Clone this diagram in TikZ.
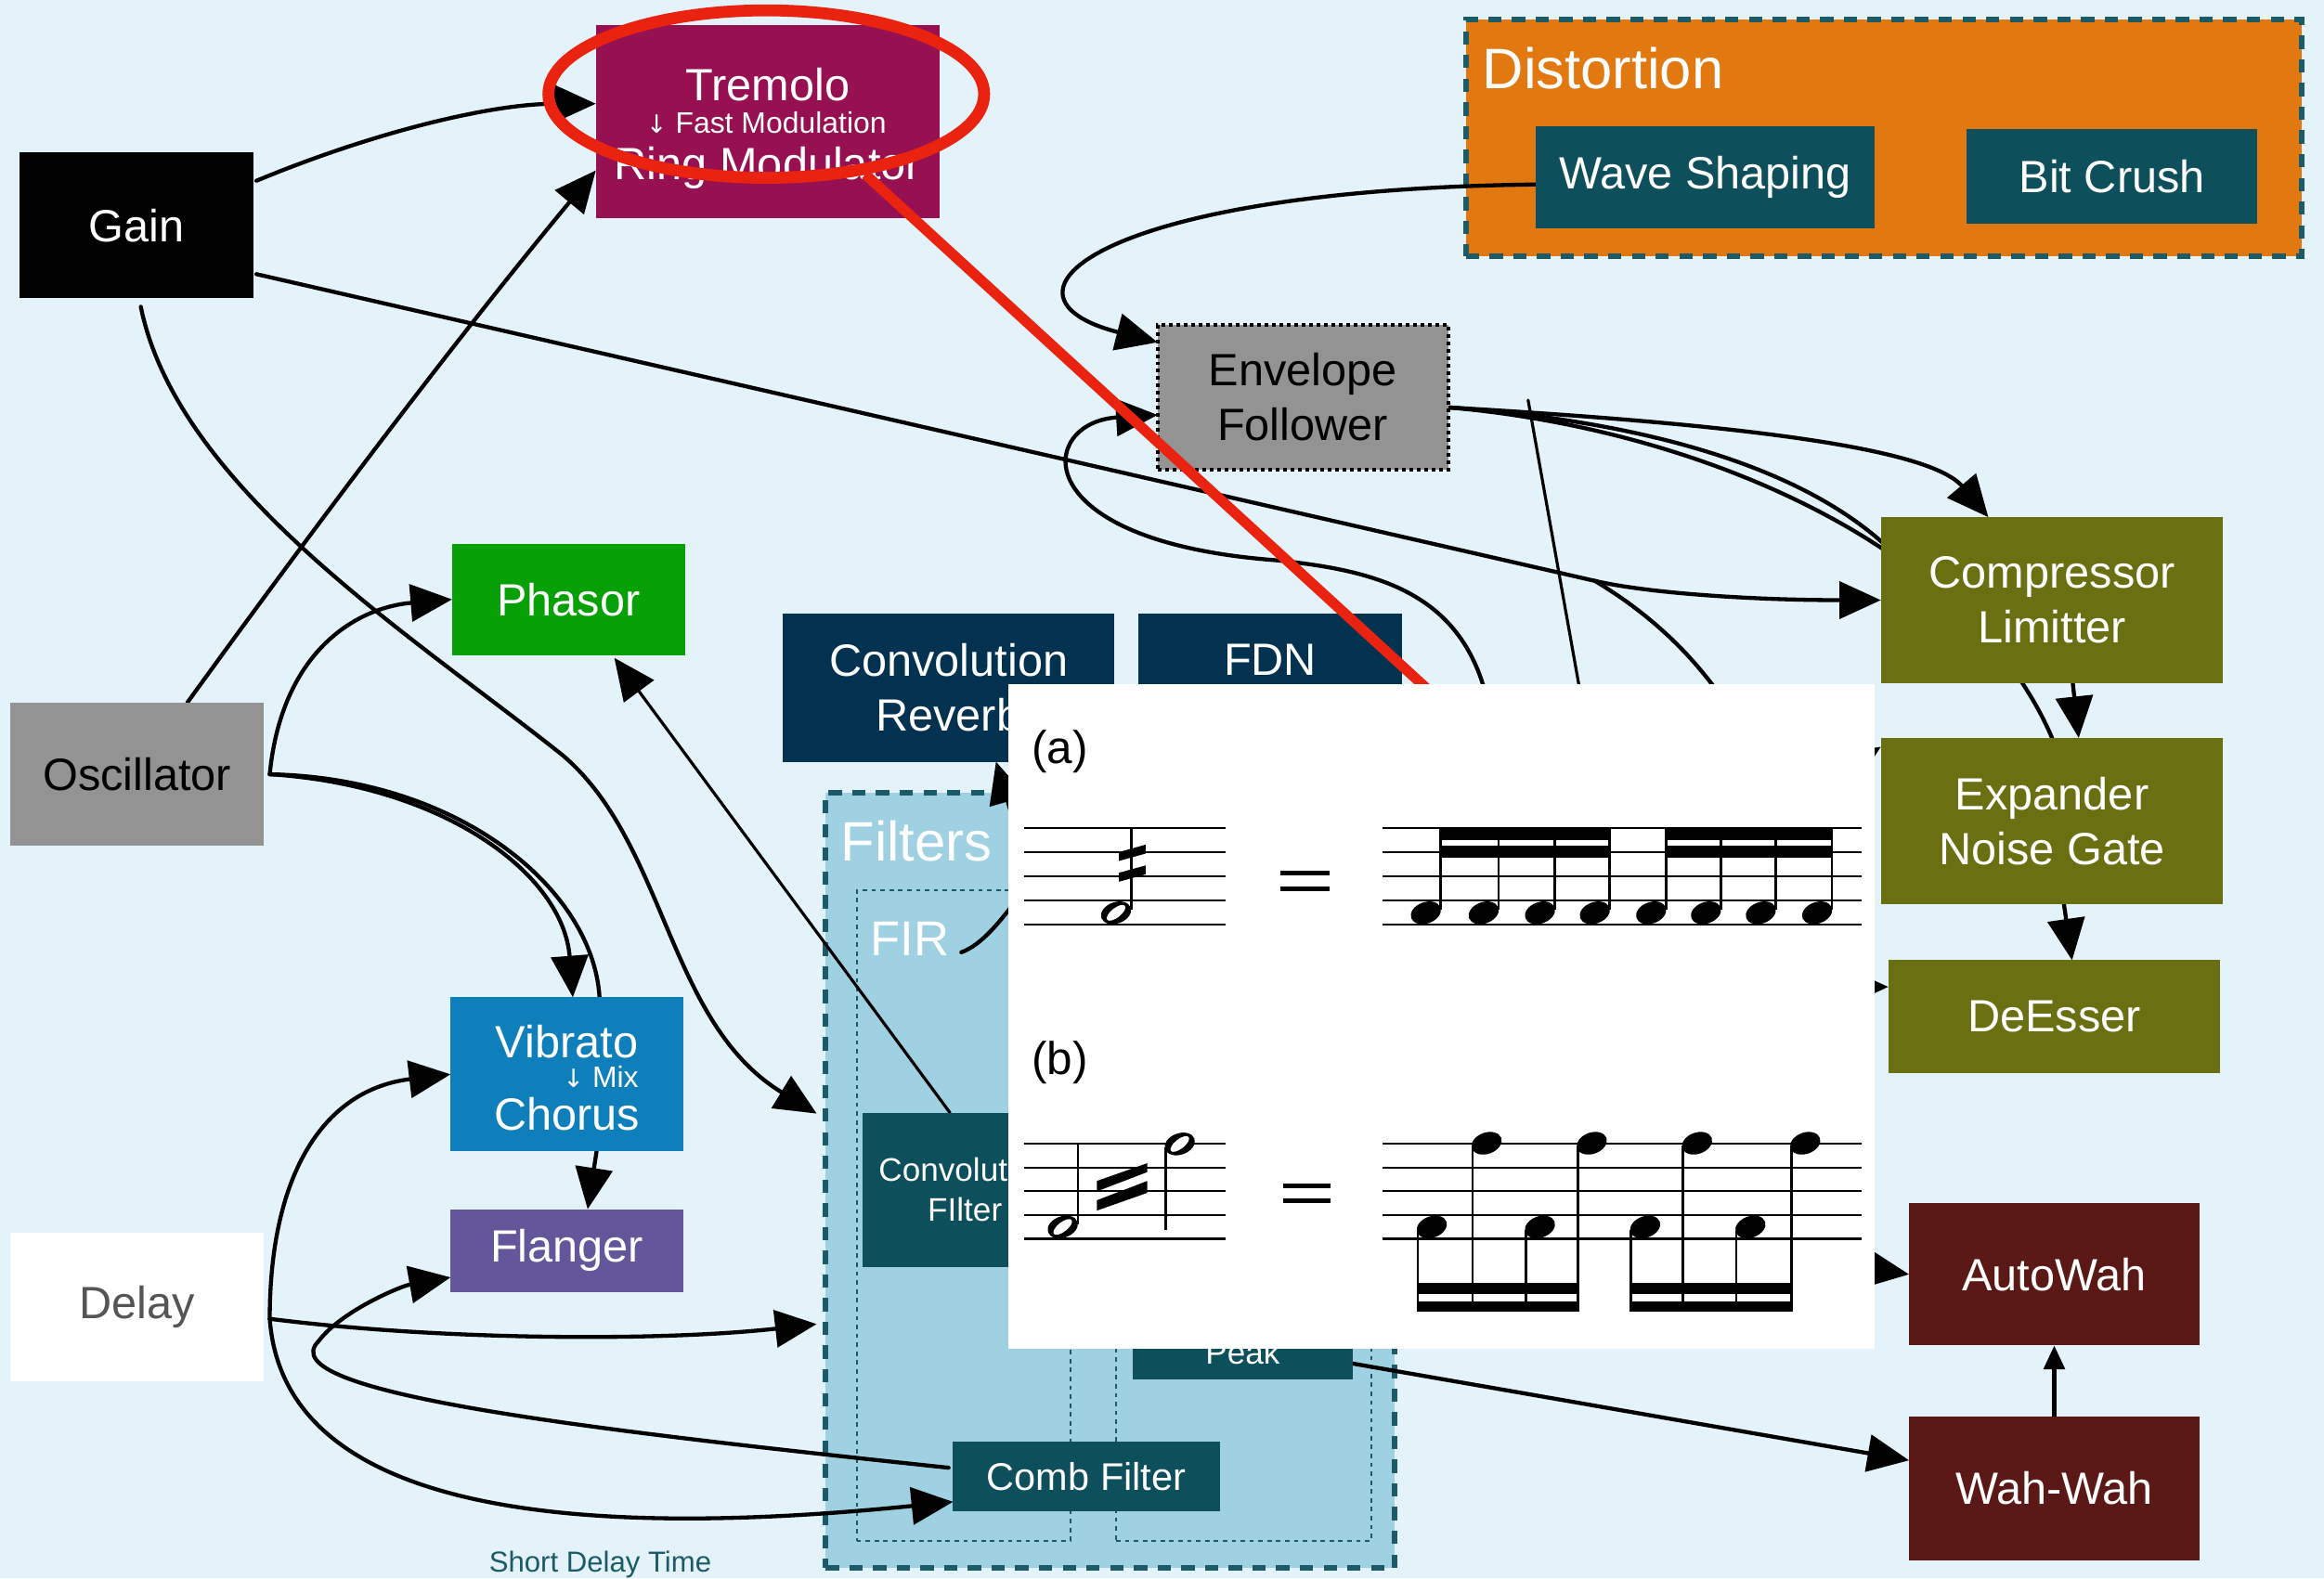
\documentclass[tikz,border=0pt]{standalone}
\usepackage{fontspec}
\setmainfont{Liberation Sans}
\newfontfamily\arrowfont{DejaVu Sans}
\usetikzlibrary{arrows.meta,calc,shapes.geometric}
\pgfdeclarelayer{bg}
\pgfdeclarelayer{edges}
\pgfdeclarelayer{top}
\pgfsetlayers{bg,edges,main,top}
\definecolor{bgcol}{HTML}{E4F2F9}
\definecolor{tremcol}{HTML}{961052}
\definecolor{distcol}{HTML}{E17810}
\definecolor{tealbox}{HTML}{0D4F5B}
\definecolor{dashteal}{HTML}{1C5A68}
\definecolor{greybox}{HTML}{939393}
\definecolor{olive}{HTML}{6A7012}
\definecolor{wahcol}{HTML}{5A1916}
\definecolor{phascol}{HTML}{07A006}
\definecolor{vibcol}{HTML}{0F7FBB}
\definecolor{flancol}{HTML}{63569A}
\definecolor{navy}{HTML}{033250}
\definecolor{filtfill}{HTML}{9FD1E3}
\definecolor{redcol}{HTML}{EA2210}
\definecolor{delaytxt}{HTML}{555555}
\newcommand{\mainfs}{\fontsize{30.5}{37}\selectfont}
\newcommand{\smallfs}{\fontsize{20}{21}\selectfont}
\newcommand{\downarr}{{\arrowfont\fontsize{17}{17}\selectfont ↓}}
\newcommand{\qhead}[2]{\fill[rotate around={20:(#1,#2)}] (#1,#2) ellipse [x radius=10.5, y radius=7.2];}
\newcommand{\hhead}[2]{\fill[rotate around={20:(#1,#2)}] (#1,#2) ellipse [x radius=10.5, y radius=7.2];
  \fill[white,rotate around={38:(#1,#2)}] (#1,#2) ellipse [x radius=7.6, y radius=3.2];}
\begin{document}
\begin{tikzpicture}[x=1pt,y=-1pt,
  box/.style={rectangle, inner sep=0pt, outer sep=0pt, align=center, text=white, font=\mainfs},
  txt/.style={inner sep=0pt, text=white, font=\mainfs},
  conn/.style={draw=black, line width=2.7pt, line cap=round},
  arr/.style={conn, -{Triangle[length=28pt,width=25pt]}},
  cluster/.style={draw=dashteal, line width=3.8pt, dash pattern=on 9pt off 7pt, inner sep=0pt, outer sep=0pt},
  subcluster/.style={draw=dashteal, line width=1.3pt, dash pattern=on 3pt off 3pt, inner sep=0pt, outer sep=0pt},
  staffline/.style={line width=1.3pt},
  stemline/.style={line width=1.7pt},
]
\useasboundingbox (0,0) rectangle (1568,1065);

\begin{pgfonlayer}{bg}
\fill[bgcol] (0,0) rectangle (1568,1065);
\node[cluster, fill=distcol, minimum width=564pt, minimum height=160pt] (dist) at (1271,93) {};
\node[cluster, fill=filtfill, minimum width=384pt, minimum height=523pt] (filters) at (749,796.5) {};
\node[subcluster, minimum width=144pt, minimum height=439pt] (fir) at (650,820.5) {};
\node[subcluster, minimum width=172pt, minimum height=439pt] (iir) at (839,820.5) {};
\end{pgfonlayer}

% ---------- nodes ----------
\node[box, fill=black, minimum width=158pt, minimum height=98pt] (gain) at (92,152) {Gain};
\node[box, fill=tremcol, minimum width=232pt, minimum height=130pt] (trem) at (518,82) {};
\node[txt, anchor=base] (tremA) at (518,68) {Tremolo};
\node[txt, anchor=base, font=\smallfs] (tremB) at (517,90) {\downarr\ Fast Modulation};
\node[txt, anchor=base] (tremC) at (518,121) {Ring Modulator};
\node[txt, anchor=base west, font=\fontsize{38.5}{38.5}\selectfont] (distlbl) at (1000,60) {Distortion};
\node[box, fill=tealbox, minimum width=229pt, minimum height=69pt] (wave) at (1150.5,119.5) {Wave Shaping};
\node[box, fill=tealbox, minimum width=196pt, minimum height=64pt] (bit) at (1425,119) {Bit Crush};
\node[box, fill=greybox, text=black, draw=black, line width=2.5pt, dash pattern=on 2.5pt off 2.5pt, minimum width=196pt, minimum height=98pt] (env) at (879,268) {Envelope\\Follower};
\node[box, fill=olive, minimum width=231pt, minimum height=112pt] (comp) at (1384.5,405) {Compressor\\Limitter};
\node[box, fill=olive, minimum width=231pt, minimum height=112pt] (exp) at (1384.5,554) {Expander\\Noise Gate};
\node[box, fill=olive, minimum width=224pt, minimum height=76pt] (dees) at (1386,686) {DeEsser};
\node[box, fill=wahcol, minimum width=196pt, minimum height=96pt] (autowah) at (1386,860) {AutoWah};
\node[box, fill=wahcol, minimum width=196pt, minimum height=97pt] (wahwah) at (1386,1004.5) {Wah-Wah};
\node[box, fill=phascol, minimum width=157pt, minimum height=75pt] (phasor) at (383.5,404.5) {Phasor};
\node[box, fill=greybox, text=black, minimum width=171pt, minimum height=97pt] (osc) at (92.5,522.5) {Oscillator};
\node[box, fill=vibcol, minimum width=157pt, minimum height=104pt] (vib) at (382.5,725) {};
\node[txt, anchor=base] (vibA) at (382.5,714) {Vibrato};
\node[txt, anchor=base east, font=\smallfs] (vibB) at (431,734) {\downarr\ Mix};
\node[txt, anchor=base] (vibC) at (382.5,763) {Chorus};
\node[box, fill=flancol, minimum width=157pt, minimum height=56pt] (flanger) at (382.5,844) {Flanger};
\node[box, fill=white, text=delaytxt, minimum width=171pt, minimum height=100pt] (delay) at (92.5,882) {Delay};
\node[box, fill=navy, minimum width=224pt, minimum height=100pt] (convrev) at (640,464) {Convolution\\Reverb};
\node[box, fill=navy, minimum width=178pt, minimum height=100pt] (fdn) at (857,464) {FDN\\\mbox{}};
\node[txt, anchor=base west, font=\fontsize{37.5}{37.5}\selectfont] (filtlbl) at (567,581) {Filters};
\node[txt, anchor=base west, font=\fontsize{33}{33}\selectfont] (firlbl) at (587,645) {FIR};
\node[box, fill=tealbox, font=\fontsize{22}{27}\selectfont, minimum width=138pt, minimum height=104pt] (convfilt) at (651,803) {Convolution\\FIlter};
\node[box, fill=tealbox, font=\fontsize{22}{27}\selectfont, minimum width=149pt, minimum height=37pt] (peak) at (838.5,912.5) {Peak};
\node[box, fill=tealbox, font=\fontsize{26}{30}\selectfont, minimum width=180pt, minimum height=47pt] (comb) at (733,996.5) {Comb Filter};
\node[txt, text=dashteal, font=\fontsize{19.5}{20}\selectfont, anchor=base] (sdt) at (405,1061) {Short Delay Time};

% ---------- connectors ----------
\begin{pgfonlayer}{edges}
\coordinate (cusp) at (1076,392);
\coordinate (h7) at (1072,500);
\coordinate (h9) at (1005,480);
\coordinate (h10) at (720,560);
\coordinate (h11) at (690,575);
\coordinate (h25) at (1150,840);
\coordinate (h27) at (1180,560);
\draw[arr] ($(gain.east)+(2,-30)$) .. controls (250,90) and (330,70) .. ($(trem.west)+(0,-12)$);
\draw[arr] ($(osc.north)+(34,0)$) .. controls (180,400) and (290,250) .. ($(trem.west)+(0,33)$);
\draw[conn] ($(gain.east)+(2,33)$) -- (cusp);
\draw[arr] (cusp) .. controls (1110,400) and (1180,405) .. (comp.west);
\draw[arr] (cusp) .. controls (1240,490) and (1200,666) .. ($(dees.west)+(0,-20)$);
\draw[arr] ($(env.east)+(1,7)$) .. controls (1150,285) and (1300,300) .. ($(comp.north)+(-43,0)$);
\draw[conn] ($(env.east)+(1,7)$) .. controls (1150,290) and (1330,370) .. (exp.north);
\draw[conn] ($(env.east)+(1,7)$) .. controls (1120,285) and (1230,320) .. ($(comp.west)+(15,-25)$);
\draw[conn, line width=2pt] ($(env.east)+(54,2)$) -- (h7);
\draw[arr] ($(wave.west)+(0,5)$) .. controls (740,128) and (660,200) .. ($(env.north west)+(0,12)$);
\draw[arr] (h9) .. controls (990,400) and (930,385) .. (860,378) .. controls (690,365) and (700,285) .. ($(env.west)+(0,12)$);
\draw[conn] (h10) .. controls (690,600) and (670,635) .. ($(firlbl.east)+(8,9)$);
\draw[arr] (h11) -- ($(convrev.south)+(32,0)$);
\draw[arr] ($(gain.south)+(3,6)$) .. controls (120,330) and (280,430) .. (380,510) .. controls (450,570) and (450,690) .. ($(filters.west)+(-6,-45)$);
\draw[arr] ($(osc.east)+(4,0)$) .. controls (190,440) and (240,410) .. (phasor.west);
\draw[arr] ($(osc.east)+(4,0)$) .. controls (300,530) and (380,590) .. ($(vib.north)+(4,0)$);
\draw[conn] ($(osc.east)+(4,0)$) .. controls (310,525) and (400,600) .. ($(vib.north)+(22,0)$);
\draw[arr, line width=2pt] ($(convfilt.north)+(-10,0)$) -- ($(phasor.south)+(31,2)$);
\draw[arr] ($(vib.south)+(20,0)$) -- ($(flanger.north)+(14,0)$);
\draw[arr] ($(delay.east)+(4,8)$) .. controls (182,790) and (220,735) .. (vib.west);
\draw[arr] ($(comb.west)+(-3,-6)$) .. controls (400,965) and (180,940) .. (215,905) .. controls (230,885) and (270,868) .. ($(flanger.west)+(0,18)$);
\draw[arr] ($(delay.east)+(4,8)$) .. controls (300,905) and (450,905) .. ($(filters.west)+(-6,97)$);
\draw[arr] ($(delay.east)+(4,8)$) .. controls (190,1000) and (330,1045) .. ($(comb.west)+(0,17)$);
\draw[arr] ($(peak.east)+(-33,2)$) -- ($(wahwah.west)+(0,-19)$);
\draw[arr] ($(comp.south)+(14,0)$) -- ($(exp.north)+(18,0)$);
\draw[arr] ($(exp.south)+(8,0)$) -- ($(dees.north)+(12,0)$);
\draw[arr] (h25) -- (autowah.west);
\draw[arr] (h27) -- ($(exp.west)+(0,-50)$);
\draw[line width=2.8pt, -{Triangle[length=16pt,width=14pt]}] (wahwah.north) -- (autowah.south);
\end{pgfonlayer}

% ---------- annotation and inset ----------
\begin{pgfonlayer}{top}
\node[draw=redcol, line width=8pt, ellipse, inner sep=0pt, minimum width=294pt, minimum height=113pt] (callout) at (517,63.5) {};
\coordinate (redend) at (975,476);
\draw[redcol, line width=7pt] (callout.-39) -- (redend);
\node[fill=white, inner sep=0pt, minimum width=585pt, minimum height=448pt] (inset) at (972.5,686) {};
\node[anchor=base, text=black, inner sep=0pt, font=\fontsize{31}{31}\selectfont] (lbla) at (715,515) {(a)};
\node[anchor=base, text=black, inner sep=0pt, font=\fontsize{31}{31}\selectfont] (lblb) at (715,725) {(b)};
% staves
\foreach \k in {0,...,4} {
  \draw[staffline] (691,{559+16.25*\k}) -- (827,{559+16.25*\k});
  \draw[staffline] (933,{559+16.25*\k}) -- (1256,{559+16.25*\k});
  \draw[staffline] (691,{772+16*\k}) -- (827,{772+16*\k});
  \draw[staffline] (933,{772+16*\k}) -- (1256,{772+16*\k});
}
% (a) left
\hhead{753}{616}
\draw[stemline] (763.3,614) -- (763.3,559);
\fill (755,575) -- (773,570) -- (773,576) -- (755,581) -- cycle;
\fill (755,589) -- (773,584) -- (773,590) -- (755,595) -- cycle;
\fill (864,587.5) rectangle (897,591);
\fill (864,598) rectangle (897,601.5);
% (a) right
\foreach \x in {962,1001,1039,1076,1114,1151,1188,1226} {
  \qhead{\x}{616}
  \draw[stemline] (\x+10,614) -- (\x+10,559);
}
\fill (971.2,559) rectangle (1086.8,567);
\fill (971.2,571) rectangle (1086.8,579);
\fill (1123.2,559) rectangle (1236.8,567);
\fill (1123.2,571) rectangle (1236.8,579);
% (b) left
\hhead{717}{828}
\draw[stemline] (727.3,826) -- (727.3,772);
\hhead{796}{772}
\draw[stemline] (786.5,774) -- (786.5,830);
\fill (740,797) -- (774,785) -- (774,791) -- (740,804) -- cycle;
\fill (740,810) -- (774,797) -- (774,805) -- (740,817) -- cycle;
\fill (866,798.5) rectangle (898,802);
\fill (866,808.5) rectangle (898,812);
% (b) right
\foreach \x in {966,1039,1110,1181} {
  \qhead{\x}{828}
  \draw[stemline] (\x-9.5,830) -- (\x-9.5,885);
}
\foreach \x in {1003,1074,1145,1218} {
  \qhead{\x}{771.5}
  \draw[stemline] (\x-9.5,773) -- (\x-9.5,885);
}
\fill (955.7,866) rectangle (1065.3,873);
\fill (955.7,878) rectangle (1065.3,885);
\fill (1099.7,866) rectangle (1209.3,873);
\fill (1099.7,878) rectangle (1209.3,885);
\end{pgfonlayer}
\end{tikzpicture}
\end{document}
